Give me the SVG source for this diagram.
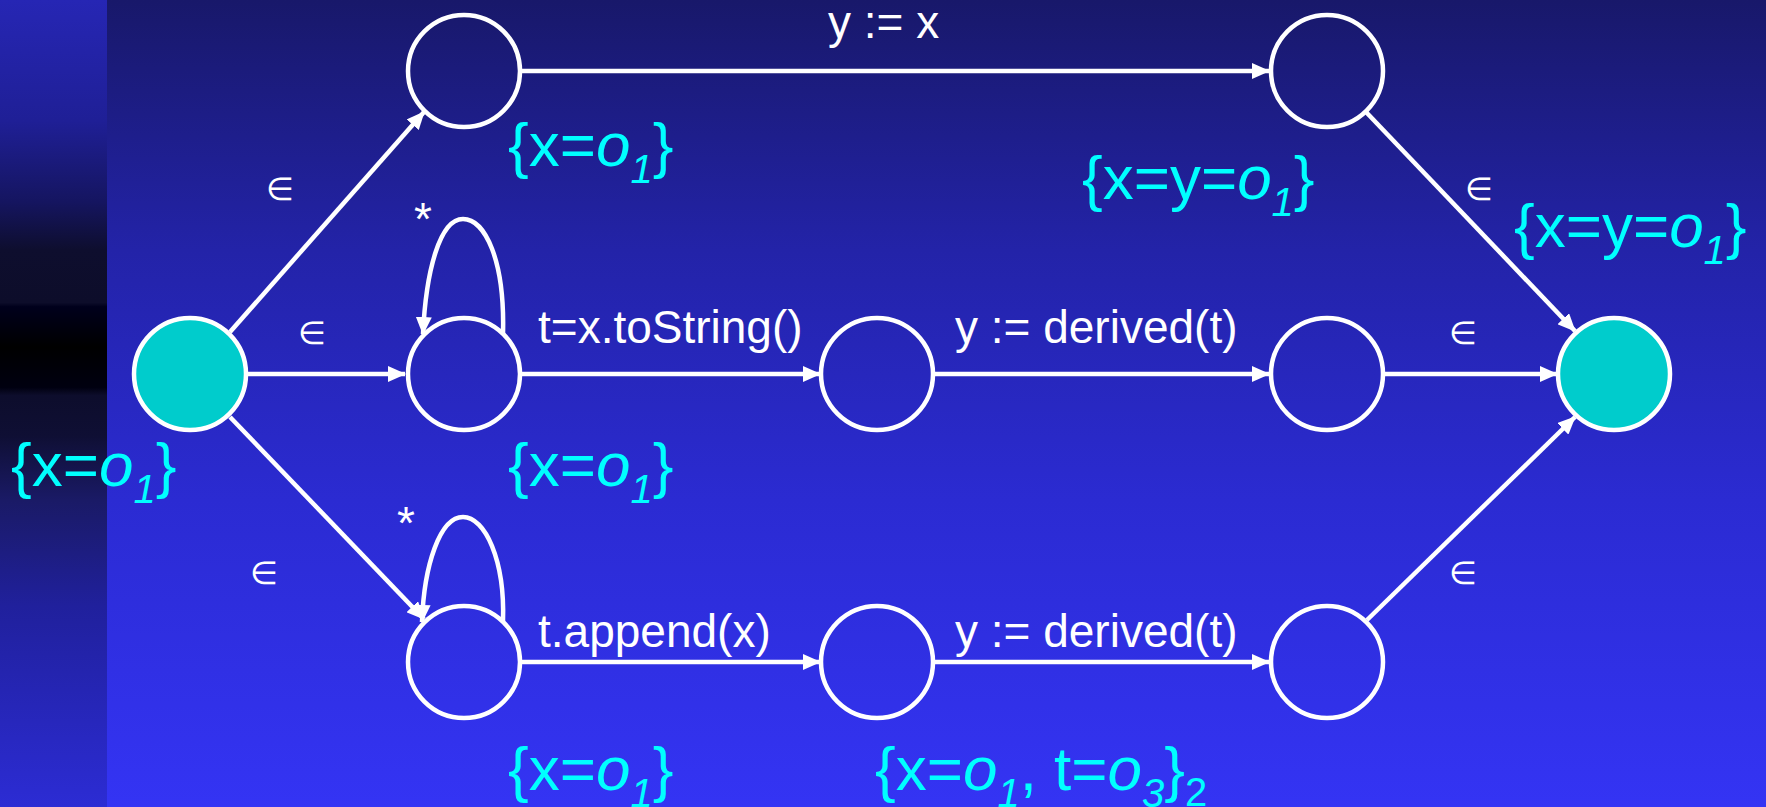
<svg xmlns="http://www.w3.org/2000/svg" width="1766" height="807" viewBox="0 0 1766 807">
<defs>
  <linearGradient id="bgMain" x1="0" y1="0" x2="0" y2="1">
    <stop offset="0" stop-color="#18186a"/>
    <stop offset="0.31" stop-color="#2323a8"/>
    <stop offset="0.62" stop-color="#2b2bd2"/>
    <stop offset="1" stop-color="#3434f4"/>
  </linearGradient>
  <linearGradient id="bgStrip" x1="0" y1="0" x2="0" y2="1">
    <stop offset="0" stop-color="#2626b4"/>
    <stop offset="0.15" stop-color="#1f1f96"/>
    <stop offset="0.25" stop-color="#151560"/>
    <stop offset="0.31" stop-color="#0e0e2e"/>
    <stop offset="0.375" stop-color="#0d0d2a"/>
    <stop offset="0.38" stop-color="#00001c"/>
    <stop offset="0.43" stop-color="#000000"/>
    <stop offset="0.48" stop-color="#000010"/>
    <stop offset="0.49" stop-color="#0d0d2c"/>
    <stop offset="0.54" stop-color="#0f0f34"/>
    <stop offset="0.62" stop-color="#1a1a66"/>
    <stop offset="0.75" stop-color="#20209c"/>
    <stop offset="1" stop-color="#2c2cd4"/>
  </linearGradient>
  <marker id="arrow" markerUnits="userSpaceOnUse" markerWidth="18" markerHeight="16" refX="17" refY="8" orient="auto" viewBox="0 0 18 16">
    <path d="M0,0 L18,8 L0,16 z" fill="#ffffff"/>
  </marker>
  <style>
    .node { fill: none; stroke: #ffffff; stroke-width: 4.5; }
    .term { fill: #00cccc; stroke: #ffffff; stroke-width: 4.5; }
    .edge { fill: none; stroke: #ffffff; stroke-width: 4.5; marker-end: url(#arrow); }
    .lbl { font-family: "Liberation Sans", Arial, sans-serif; font-size: 46px; fill: #ffffff; }
    .eps { font-family: "DejaVu Sans", sans-serif; font-size: 32px; fill: #ffffff; text-anchor: middle; }
    .star { font-family: "Liberation Sans", Arial, sans-serif; font-size: 46px; fill: #ffffff; text-anchor: middle; }
    .set { font-family: "Liberation Sans", Arial, sans-serif; font-size: 62px; fill: #00ffff; }
    .it { font-style: italic; }
    .sub { font-size: 40px; }
  </style>
</defs>

<rect x="0" y="0" width="1766" height="807" fill="url(#bgMain)"/>
<rect x="0" y="0" width="107" height="807" fill="url(#bgStrip)"/>

<g id="connectors">
  <path class="edge" d="M520,71 L1269,71"/>
  <path class="edge" d="M248,374 L405,374"/>
  <path class="edge" d="M521,374 L820,374"/>
  <path class="edge" d="M935,374 L1269,374"/>
  <path class="edge" d="M1385,374 L1557,374"/>
  <path class="edge" d="M521,662 L820,662"/>
  <path class="edge" d="M935,662 L1269,662"/>
  <path class="edge" d="M230,332 L424,112"/>
  <path class="edge" d="M230,417 L424,619"/>
  <path class="edge" d="M1366,112 L1575,331"/>
  <path class="edge" d="M1367,620 L1575,417"/>
  <path class="edge" d="M503,334 C505,260 485,219 463,219 C440,219 426,270 423,334"/>
  <path class="edge" d="M503,621 C505,560 485,517 463,517 C440,517 424,565 422,622"/>

  <text class="lbl" x="828" y="38">y := x</text>
  <text class="lbl" x="538" y="343">t=x.toString()</text>
  <text class="lbl" x="955" y="343">y := derived(t)</text>
  <text class="lbl" x="538" y="647">t.append(x)</text>
  <text class="lbl" x="955" y="647">y := derived(t)</text>

  <text class="eps" x="280" y="200">∈</text>
  <text class="eps" x="312" y="344">∈</text>
  <text class="eps" x="264" y="584">∈</text>
  <text class="eps" x="1479" y="200">∈</text>
  <text class="eps" x="1463" y="344">∈</text>
  <text class="eps" x="1463" y="584">∈</text>

  <text class="star" x="423" y="235">*</text>
  <text class="star" x="406" y="539">*</text>
</g>

<g id="n-start"><circle class="term" cx="190" cy="374" r="56"/></g>
<g id="n-top1"><circle class="node" cx="464" cy="71" r="56"/></g>
<g id="n-top2"><circle class="node" cx="1327" cy="71" r="56"/></g>
<g id="n-mid1"><circle class="node" cx="464" cy="374" r="56"/></g>
<g id="n-mid2"><circle class="node" cx="877" cy="374" r="56"/></g>
<g id="n-mid3"><circle class="node" cx="1327" cy="374" r="56"/></g>
<g id="n-end"><circle class="term" cx="1614" cy="374" r="56"/></g>
<g id="n-bot1"><circle class="node" cx="464" cy="662" r="56"/></g>
<g id="n-bot2"><circle class="node" cx="877" cy="662" r="56"/></g>
<g id="n-bot3"><circle class="node" cx="1327" cy="662" r="56"/></g>

<g id="sets">
  <text class="set" x="11" y="486">{x=<tspan class="it">o</tspan><tspan class="it sub" dy="17">1</tspan><tspan dy="-17">}</tspan></text>
  <text class="set" x="508" y="166">{x=<tspan class="it">o</tspan><tspan class="it sub" dy="17">1</tspan><tspan dy="-17">}</tspan></text>
  <text class="set" x="508" y="486">{x=<tspan class="it">o</tspan><tspan class="it sub" dy="17">1</tspan><tspan dy="-17">}</tspan></text>
  <text class="set" x="508" y="790">{x=<tspan class="it">o</tspan><tspan class="it sub" dy="17">1</tspan><tspan dy="-17">}</tspan></text>
  <text class="set" x="1082" y="199">{x=y=<tspan class="it">o</tspan><tspan class="it sub" dy="17">1</tspan><tspan dy="-17">}</tspan></text>
  <text class="set" x="1514" y="247">{x=y=<tspan class="it">o</tspan><tspan class="it sub" dy="17">1</tspan><tspan dy="-17">}</tspan></text>
  <text class="set" x="875" y="790">{x=<tspan class="it">o</tspan><tspan class="it sub" dy="17">1</tspan><tspan dy="-17">, t=</tspan><tspan class="it">o</tspan><tspan class="it sub" dy="17">3</tspan><tspan dy="-17">}</tspan><tspan class="sub" dy="16">2</tspan></text>
</g>
</svg>
